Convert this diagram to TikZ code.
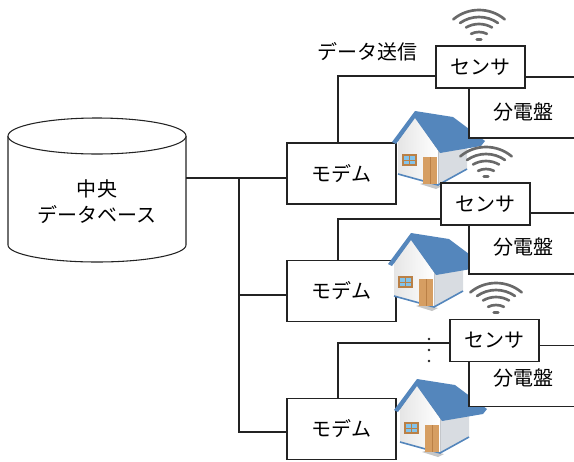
\documentclass[tikz,border=0pt]{standalone}
\usepackage{fontspec}
\setmainfont{Noto Sans CJK JP}
\definecolor{roofblue}{RGB}{84,134,188}
\definecolor{housegray}{RGB}{216,220,225}
\definecolor{doortan}{RGB}{214,158,98}
\definecolor{doorbrown}{RGB}{186,128,70}
\definecolor{winblue}{RGB}{130,195,235}
\definecolor{wifigray}{RGB}{105,105,105}
\definecolor{linecol}{RGB}{35,35,35}
\tikzset{
  conn/.style={draw=linecol, line width=0.8pt},
  box/.style={draw=linecol, line width=0.8pt, fill=white, inner sep=0pt},
  modembox/.style={box, minimum width=81.75pt, minimum height=45.75pt},
  sensorbox/.style={box, minimum width=66.75pt, minimum height=31.5pt},
  boardbox/.style={box, minimum width=81pt, minimum height=45.75pt},
  wave/.style={draw=wifigray, line width=2pt, line cap=round},
  % small house, origin at the roof peak
  house/.pic={
    \fill[housegray] (23,39) -- (52,33) -- (52,58) -- (23,74) -- cycle;
    \fill[left color=gray!20, right color=white]
      (-17,30) -- (0,6) -- (23,39) -- (23,74) -- (-17,63) -- cycle;
    \fill[gray!45] (5,73) -- (21,78) -- (27,75) -- (11,71) -- cycle;
    \draw[roofblue, line width=1.2pt] (-17,63) -- (23,74) -- (52,58);
    \fill[roofblue] (-23,31) -- (0,0) -- (38,6) -- (70,30) -- (66,35)
      -- (25,42) -- (0,7) -- (-19,33) -- cycle;
    \draw[doorbrown, line width=0.8pt, fill=winblue] (-12,44) rectangle (1,54);
    \draw[doorbrown, line width=0.6pt] (-5.5,44) -- (-5.5,54) (-12,49) -- (1,49);
    \fill[doortan] (8,46) rectangle (22,73);
    \draw[doorbrown, line width=0.4pt] (15,46) -- (15,73);
  },
  % wireless signal icon, origin at the arcs' centre
  wifi/.pic={
    \foreach \r/\a in {30pt/50, 24.75pt/55, 19.5pt/60, 13.5pt/64, 7.9pt/78}
      \draw[wave] (0,0) ++(\a:\r) arc[start angle=\a, end angle=180-\a, radius=\r];
  },
}
\begin{document}
\begin{tikzpicture}[x=0.75pt, y=-0.75pt,
  every node/.style={font=\fontsize{15}{20}\selectfont}]
\useasboundingbox (0,0) rectangle (574,461);

% central database
\draw[linecol, line width=0.8pt, fill=white] (8,136) -- (8,245)
  arc[start angle=180, end angle=360, x radius=66.75pt, y radius=12.75pt] -- (186,136);
\draw[linecol, line width=0.8pt, fill=white] (97,136) ellipse[x radius=66.75pt, y radius=13.5pt];
\node[align=center] (db) at (97,201.5) {中央\\データベース};

% modems
\node[modembox] (m1) at (341.5,173.5) {モデム};
\node[modembox] (m2) at (341.5,291) {モデム};
\node[modembox] (m3) at (341.5,429) {モデム};

% trunk from the database to the modems
\coordinate (dbR) at (186,178);
\coordinate (j1) at (239,178);
\coordinate (j2) at (239,295);
\coordinate (j3) at (239,432);
\draw[conn] (dbR) -- (dbR -| m1.west);
\draw[conn] (j1) -- (j3) -- (j3 -| m3.west);
\draw[conn] (j2) -- (j2 -| m2.west);

% houses
\pic at (415,111) {house};
\pic at (411,233) {house};
\pic at (417,379) {house};

% distribution boards
\node[boardbox] (b1) at (523,107.5) {};
\node[boardbox] (b2) at (523,243.5) {};
\node[boardbox] (b3) at (523,376) {};
\node (b1t) at (523,112) {分電盤};
\node (b2t) at (523,247) {分電盤};
\node (b3t) at (523,378) {分電盤};

% sensors
\node[sensorbox] (s1) at (480.5,67) {センサ};
\node[sensorbox] (s2) at (485.5,204) {センサ};
\node[sensorbox] (s3) at (494.5,340.5) {センサ};

% links from the modems to the sensors
\coordinate (u1) at (338,76);
\coordinate (u2) at (338,219);
\coordinate (u3) at (338,343);
\draw[conn] (m1.north -| u1) |- (u1 -| s1.west);
\draw[conn] (m2.north -| u2) |- (u2 -| s2.west);
\draw[conn] (m3.north -| u3) |- (u3 -| s3.west);

% wireless icons
\pic at (479,50) {wifi};
\pic at (486,187) {wifi};
\pic at (496,323) {wifi};

% vertical ellipsis
\foreach \yy in {339,350,361}
  \fill[linecol] (429,\yy) circle[radius=1.1pt];

\node (tx) at (367.5,52) {データ送信};
\end{tikzpicture}
\end{document}
